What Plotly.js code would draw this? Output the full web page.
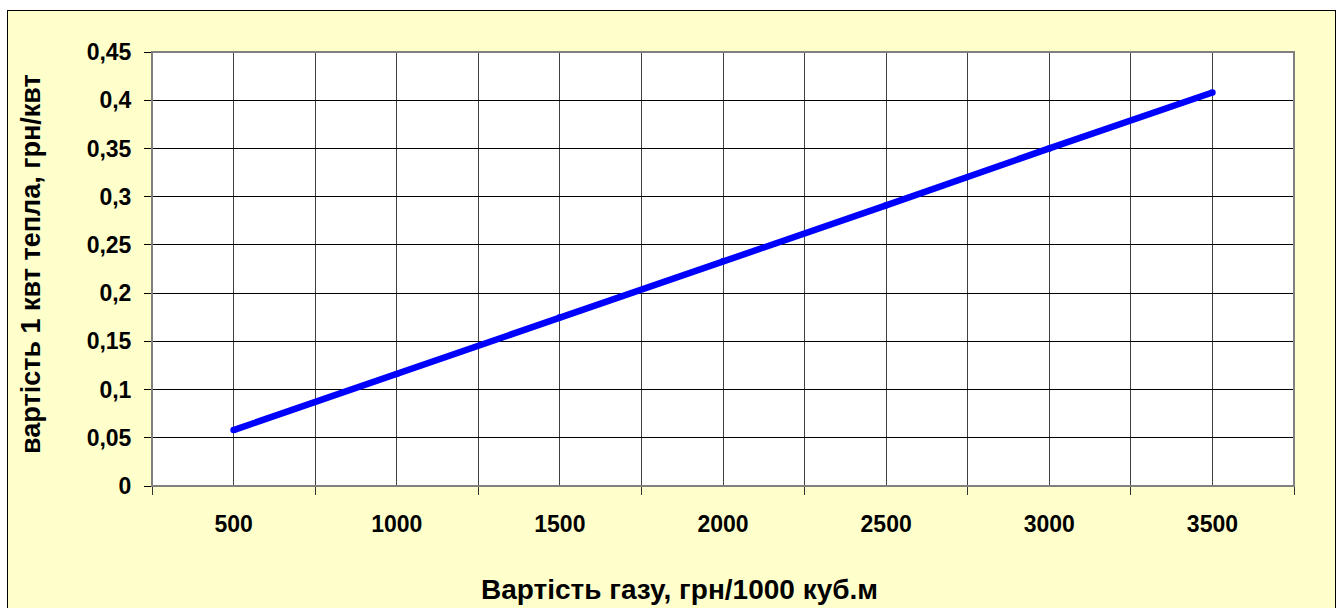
<!DOCTYPE html>
<html>
<head>
<meta charset="utf-8">
<script src="https://cdn.plot.ly/plotly-3.0.1.min.js"></script>
<style>
  html, body { margin: 0; padding: 0; background: #ffffff; overflow: hidden; width: 1341px; height: 608px; }
  #frame { position: absolute; left: 7px; top: 10px; width: 1329px; height: 620px; box-sizing: border-box; border: 1px solid #000; background: #FFFFCC; }
  #chart { width: 1327px; height: 618px; }
</style>
</head>
<body>
<div id="frame"><div id="chart"></div></div>
<script>
// Data
const gasPrice = [500, 1000, 1500, 2000, 2500, 3000, 3500];
const heatCost = [0.058, 0.116, 0.175, 0.233, 0.291, 0.350, 0.408];

// Axis ticks
const xTickVals = [500, 1000, 1500, 2000, 2500, 3000, 3500];
const xTickText = ['500', '1000', '1500', '2000', '2500', '3000', '3500'];
const xBoundaryVals = [250, 750, 1250, 1750, 2250, 2750, 3250, 3750];
const yTickVals = [0, 0.05, 0.1, 0.15, 0.2, 0.25, 0.3, 0.35, 0.4, 0.45];
const yTickText = ['0', '0,05', '0,1', '0,15', '0,2', '0,25', '0,3', '0,35', '0,4', '0,45'];

const xTitle = 'Вартість газу, грн/1000 куб.м';
const yTitle = 'вартість 1 квт тепла, грн/квт';

const FONT = 'Liberation Sans, Arial, sans-serif';

const trace = {
  x: gasPrice,
  y: heatCost,
  type: 'scatter',
  mode: 'lines+markers',
  line: { color: '#0000FF', width: 6.5 },
  marker: { color: '#0000FF', size: 6.5 },
  hoverinfo: 'x+y'
};

const layout = {
  width: 1327,
  height: 618,
  margin: { l: 144, r: 41, t: 41, b: 143, pad: 0 },
  paper_bgcolor: '#FFFFCC',
  plot_bgcolor: '#FFFFFF',
  showlegend: false,
  font: { family: FONT, size: 23, color: '#000000', weight: 'bold' },
  xaxis: {
    range: [250, 3750],
    tickmode: 'array',
    tickvals: xTickVals,
    ticktext: xTickText,
    ticks: '',
    ticklabelstandoff: 17,
    tickfont: { family: FONT, size: 23, color: '#000000', weight: 'bold' },
    showgrid: true,
    gridcolor: '#404040',
    gridwidth: 1,
    zeroline: false,
    showline: true,
    linecolor: '#333333',
    linewidth: 1,
    minor: {
      tickmode: 'array',
      tickvals: xBoundaryVals,
      ticks: 'outside',
      ticklen: 8,
      tickwidth: 1,
      tickcolor: '#333333',
      showgrid: true,
      gridcolor: '#404040',
      gridwidth: 1
    },
    fixedrange: true
  },
  yaxis: {
    range: [0, 0.45],
    tickmode: 'array',
    tickvals: yTickVals,
    ticktext: yTickText,
    ticks: 'outside',
    ticklen: 7,
    tickwidth: 1,
    tickcolor: '#000000',
    ticklabelstandoff: 8,
    tickfont: { family: FONT, size: 23, color: '#000000', weight: 'bold' },
    showgrid: true,
    gridcolor: '#000000',
    gridwidth: 1,
    zeroline: false,
    showline: true,
    linecolor: '#000000',
    linewidth: 1,
    fixedrange: true
  },
  shapes: [
    { type: 'rect', xref: 'paper', yref: 'paper', x0: 0, x1: 1, y0: 0, y1: 1,
      line: { color: '#808080', width: 2 }, fillcolor: 'rgba(0,0,0,0)', layer: 'above' }
  ],
  annotations: [
    { text: xTitle, xref: 'paper', yref: 'paper', x: 0.4619, y: -0.2396,
      xanchor: 'center', yanchor: 'middle', showarrow: false,
      font: { family: FONT, size: 28, color: '#000000', weight: 'bold' } },
    { text: yTitle, xref: 'paper', yref: 'paper', x: -0.106, y: 0.5115,
      xanchor: 'center', yanchor: 'middle', showarrow: false, textangle: -90,
      font: { family: FONT, size: 27, color: '#000000', weight: 'bold' } }
  ]
};

Plotly.newPlot('chart', [trace], layout, { displayModeBar: false, staticPlot: true });
</script>
</body>
</html>
